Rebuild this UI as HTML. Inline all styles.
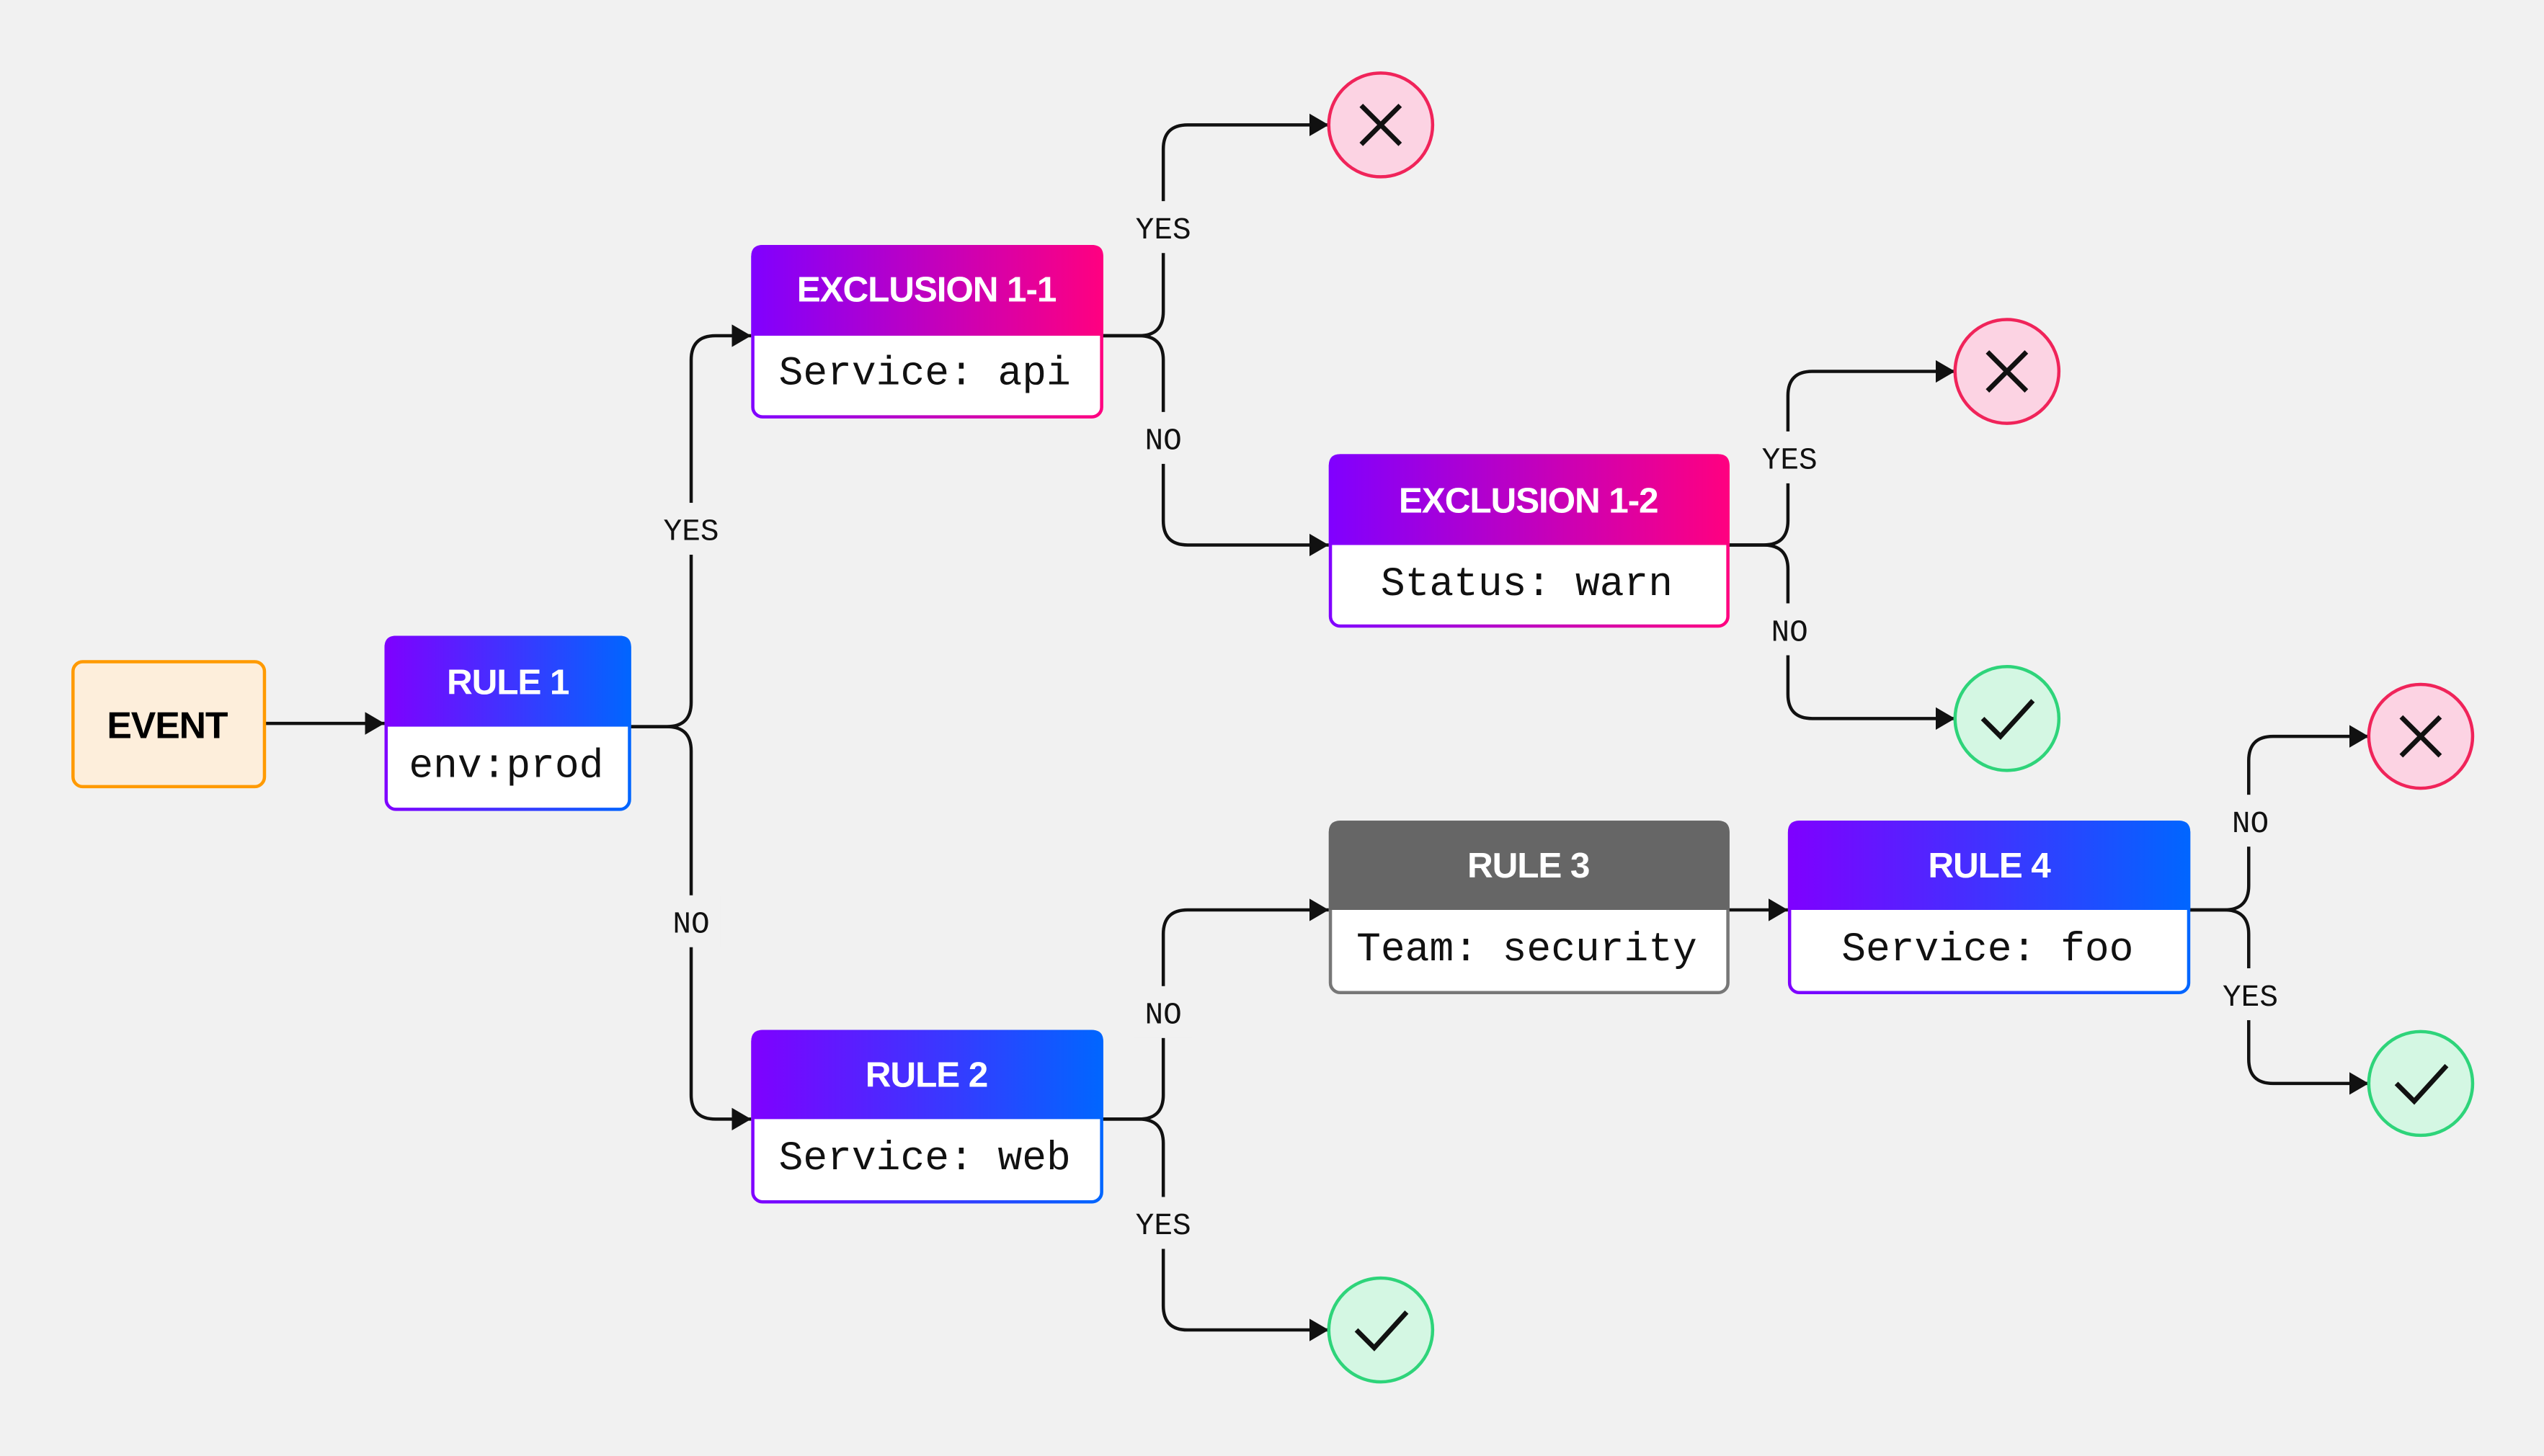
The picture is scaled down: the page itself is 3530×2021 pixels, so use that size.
<!DOCTYPE html>
<html><head><meta charset="utf-8"><style>
html,body{margin:0;padding:0;background:#f1f1f1;}
svg{display:block;}
.h{font-family:"Liberation Sans",sans-serif;font-weight:700;font-size:22px;fill:#fff;text-anchor:middle;letter-spacing:-0.5px;}
.m{font-family:"Liberation Mono",monospace;font-size:25px;fill:#111;text-anchor:middle;}
.l{font-family:"Liberation Mono",monospace;font-size:19px;fill:#111;text-anchor:middle;}
.c{fill:none;stroke:#111;stroke-width:2;}
</style></head><body>
<svg width="3530" height="2021" viewBox="0 0 1568 897.7" xmlns="http://www.w3.org/2000/svg">
<defs>
<linearGradient id="pb" x1="0" y1="0" x2="1" y2="0"><stop offset="0" stop-color="#7f00ff"/><stop offset="1" stop-color="#0066ff"/></linearGradient>
<linearGradient id="pp" x1="0" y1="0" x2="1" y2="0"><stop offset="0" stop-color="#8000ff"/><stop offset="1" stop-color="#ff0080"/></linearGradient>
<marker id="a" markerWidth="13" markerHeight="14" refX="12" refY="7" orient="auto" markerUnits="userSpaceOnUse"><path d="M0,0 L12,7 L0,14 Z" fill="#111"/></marker>
</defs>
<rect width="1568" height="898" fill="#f1f1f1"/>

<g class="c" marker-end="url(#a)">
<path d="M163 446 H237"/>
<path d="M388 448 H411 Q426 448 426 433 V222 Q426 207 441 207 H463"/>
<path d="M388 448 H411 Q426 448 426 463 V675 Q426 690 441 690 H463"/>
<path d="M679 207 H702 Q717 207 717 192 V92 Q717 77 732 77 H819"/>
<path d="M679 207 H702 Q717 207 717 222 V321 Q717 336 732 336 H819"/>
<path d="M1065 336 H1087 Q1102 336 1102 321 V244 Q1102 229 1117 229 H1205"/>
<path d="M1065 336 H1087 Q1102 336 1102 351 V428 Q1102 443 1117 443 H1205"/>
<path d="M679 690 H702 Q717 690 717 675 V576 Q717 561 732 561 H819"/>
<path d="M679 690 H702 Q717 690 717 705 V805 Q717 820 732 820 H819"/>
<path d="M1065 561 H1102"/>
<path d="M1349 561 H1371 Q1386 561 1386 546 V469 Q1386 454 1401 454 H1460"/>
<path d="M1349 561 H1371 Q1386 561 1386 576 V653 Q1386 668 1401 668 H1460"/>
</g>

<g>
<rect x="404" y="310" width="44" height="32" fill="#f1f1f1"/><text class="l" x="426" y="333">YES</text>
<rect x="408" y="552" width="36" height="32" fill="#f1f1f1"/><text class="l" x="426" y="575">NO</text>
<rect x="695" y="124" width="44" height="32" fill="#f1f1f1"/><text class="l" x="717" y="147">YES</text>
<rect x="699" y="254" width="36" height="32" fill="#f1f1f1"/><text class="l" x="717" y="277">NO</text>
<rect x="1080" y="266" width="44" height="32" fill="#f1f1f1"/><text class="l" x="1103" y="289">YES</text>
<rect x="1084" y="372" width="36" height="32" fill="#f1f1f1"/><text class="l" x="1103" y="395">NO</text>
<rect x="699" y="608" width="36" height="32" fill="#f1f1f1"/><text class="l" x="717" y="631">NO</text>
<rect x="695" y="738" width="44" height="32" fill="#f1f1f1"/><text class="l" x="717" y="761">YES</text>
<rect x="1368" y="490" width="36" height="32" fill="#f1f1f1"/><text class="l" x="1387" y="513">NO</text>
<rect x="1365" y="597" width="44" height="32" fill="#f1f1f1"/><text class="l" x="1387" y="620">YES</text>
</g>

<rect x="45" y="408" width="118" height="77" rx="6" fill="#fdeedb" stroke="#ff9a00" stroke-width="2"/>
<text x="103" y="455" font-family="Liberation Sans,sans-serif" font-weight="700" font-size="23" text-anchor="middle" fill="#000" letter-spacing="-0.5">EVENT</text>

<g>
<rect x="238" y="393" width="150" height="106" rx="6" fill="#fff" stroke="url(#pb)" stroke-width="2"/>
<path d="M237 448 V399 Q237 392 244 392 H382 Q389 392 389 399 V448 Z" fill="url(#pb)"/>
<text class="h" x="313" y="428">RULE 1</text>
<text class="m" x="312" y="479">env:prod</text>
</g>
<g>
<rect x="464" y="152" width="215" height="105" rx="6" fill="#fff" stroke="url(#pp)" stroke-width="2"/>
<path d="M463 207 V158 Q463 151 470 151 H673 Q680 151 680 158 V207 Z" fill="url(#pp)"/>
<text class="h" x="571" y="186">EXCLUSION 1-1</text>
<text class="m" x="570" y="237">Service: api</text>
</g>
<g>
<rect x="820" y="281" width="245" height="105" rx="6" fill="#fff" stroke="url(#pp)" stroke-width="2"/>
<path d="M819 336 V287 Q819 280 826 280 H1059 Q1066 280 1066 287 V336 Z" fill="url(#pp)"/>
<text class="h" x="942" y="316">EXCLUSION 1-2</text>
<text class="m" x="941" y="367">Status: warn</text>
</g>
<g>
<rect x="464" y="636" width="215" height="105" rx="6" fill="#fff" stroke="url(#pb)" stroke-width="2"/>
<path d="M463 690 V642 Q463 635 470 635 H673 Q680 635 680 642 V690 Z" fill="url(#pb)"/>
<text class="h" x="571" y="670">RULE 2</text>
<text class="m" x="570" y="721">Service: web</text>
</g>
<g>
<rect x="820" y="507" width="245" height="105" rx="6" fill="#fff" stroke="#777" stroke-width="2"/>
<path d="M819 561 V513 Q819 506 826 506 H1059 Q1066 506 1066 513 V561 Z" fill="#666"/>
<text class="h" x="942" y="541">RULE 3</text>
<text class="m" x="941" y="592">Team: security</text>
</g>
<g>
<rect x="1103" y="507" width="246" height="105" rx="6" fill="#fff" stroke="url(#pb)" stroke-width="2"/>
<path d="M1102 561 V513 Q1102 506 1109 506 H1343 Q1350 506 1350 513 V561 Z" fill="url(#pb)"/>
<text class="h" x="1226" y="541">RULE 4</text>
<text class="m" x="1225" y="592">Service: foo</text>
</g>

<g stroke-width="2">
<circle cx="851" cy="77" r="32" fill="#fcd3e3" stroke="#f0245a"/>
<circle cx="1237" cy="229" r="32" fill="#fcd3e3" stroke="#f0245a"/>
<circle cx="1492" cy="454" r="32" fill="#fcd3e3" stroke="#f0245a"/>
<circle cx="1237" cy="443" r="32" fill="#d4f7e3" stroke="#2ed47a"/>
<circle cx="851" cy="820" r="32" fill="#d4f7e3" stroke="#2ed47a"/>
<circle cx="1492" cy="668" r="32" fill="#d4f7e3" stroke="#2ed47a"/>
</g>
<g stroke="#111" stroke-width="3" fill="none">
<path d="M839 65 L863 89 M863 65 L839 89"/>
<path d="M1225 217 L1249 241 M1249 217 L1225 241"/>
<path d="M1480 442 L1504 466 M1504 442 L1480 466"/>
<path d="M1222 443 L1233 454 L1253 432"/>
<path d="M836 820 L847 831 L867 809"/>
<path d="M1477 668 L1488 679 L1508 657"/>
</g>
</svg>
</body></html>
